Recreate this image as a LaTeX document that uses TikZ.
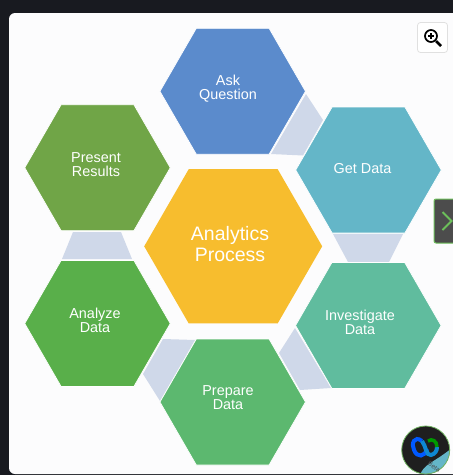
\documentclass[tikz,border=0pt]{standalone}
\usepackage{fontspec}
\setmainfont{Liberation Sans}
\usetikzlibrary{shapes.geometric}
\definecolor{pagebg}{HTML}{181A20}
\definecolor{panelbg}{HTML}{FCFCFD}
\definecolor{linkfill}{HTML}{CFD8E9}
\definecolor{askc}{HTML}{5B8BCC}
\definecolor{getc}{HTML}{64B6C8}
\definecolor{invc}{HTML}{60BC9E}
\definecolor{prec}{HTML}{5CB86F}
\definecolor{anac}{HTML}{59AF4A}
\definecolor{resc}{HTML}{70A547}
\definecolor{cenc}{HTML}{F7BD2E}
\definecolor{tabgreen}{HTML}{6CBF5A}
\tikzset{
  x=1pt,y=-1pt,
  hexa/.style={regular polygon,regular polygon sides=6,
    minimum size=145.5pt,inner sep=0pt,outer sep=0pt,fill=#1,draw=white,line width=.7pt},
  hexlabel/.style={text=white,align=center,font=\fontsize{14.4}{14}\selectfont,inner sep=0pt},
  linkshape/.style={fill=linkfill}
}
\begin{document}
\begin{tikzpicture}
\useasboundingbox (0,0) rectangle (453,475);
\fill[pagebg] (0,0) rectangle (453,475);
\fill[panelbg,rounded corners=6pt] (9,13) rectangle (470,474);
% links
\fill[linkshape] (306,94) -- (323,120) -- (303,155.5) -- (271,154) -- cycle;
\fill[linkshape] (333,234) -- (403,234) -- (389,262) -- (348,262) -- cycle;
\fill[linkshape] (295,328) -- (331,388) -- (300,390) -- (279,353) -- cycle;
\fill[linkshape] (163,339) -- (195,340) -- (160,401) -- (143,374) -- cycle;
\fill[linkshape] (62,259) -- (132,259) -- (121,232) -- (73,232) -- cycle;
% hexagons
\node[hexa=askc] (ask) at (232.7,91.3) {};
\node[hexa=getc] (get) at (368.5,170) {};
\node[hexa=invc] (inv) at (368.3,325.5) {};
\node[hexa=prec] (pre) at (232.7,402) {};
\node[hexa=anac] (ana) at (97.5,323.5) {};
\node[hexa=resc] (res) at (97.5,167.7) {};
\node[hexa=cenc,minimum size=178pt,draw=none] (cen) at (233.2,246.3) {};
% labels
\node[hexlabel] (askt) at (228,89) {Ask\\Question};
\node[hexlabel] (gett) at (362.5,169) {Get Data};
\node[hexlabel] (invt) at (360,322) {Investigate\\Data};
\node[hexlabel] (pret) at (228,398) {Prepare\\Data};
\node[hexlabel] (anat) at (95,320) {Analyze\\Data};
\node[hexlabel] (rest) at (96,165) {Present\\Results};
\node[hexlabel,font=\fontsize{19.5}{21}\selectfont] (cent) at (230,244.5) {Analytics\\Process};
% zoom button
\draw[fill=white,draw=black!12,rounded corners=3pt,line width=.8pt] (417.5,22.5) rectangle (447.5,52.5);
\draw[black,line width=1.7pt] (431,36) circle (6);
\draw[black,line width=1.2pt] (428,36) -- (434,36) (431,33) -- (431,39);
\draw[black,line width=2.6pt] (436,41) -- (441,46);
% side tab
\draw[fill=black!70,draw=tabgreen,line width=1pt,rounded corners=2pt] (434,199) rectangle (460,243);
\draw[tabgreen,line width=2pt] (442.5,212) -- (451.5,221) -- (442.5,230);
% badge
\begin{scope}
\clip (425.7,450) circle (24);
\fill[black!88] (425.7,450) circle (24);
\fill[getc] (420,476) .. controls (423,464) and (432,464) .. (452,448) -- (455,480) -- cycle;
\end{scope}
\draw[tabgreen!80!gray,line width=.8pt] (425.7,450) circle (24);
\draw[blue!65!cyan,line width=4pt] (422,441) .. controls (414,435) and (411,444) .. (414,450) .. controls (417,458) and (425,457) .. (427,449);
\draw[cyan!70!blue,line width=4pt] (422,441) .. controls (426,446) and (426,456) .. (431,455) .. controls (435,454) and (437,451) .. (437,447);
\draw[green!60!black,line width=3.5pt] (428,441) .. controls (432,438) and (437,441) .. (437,447);
\node[rotate=-35,text=black!70,font=\fontsize{6.5}{6.5}\selectfont,inner sep=0pt] (betat) at (434,467) {Beta};
\end{tikzpicture}
\end{document}
